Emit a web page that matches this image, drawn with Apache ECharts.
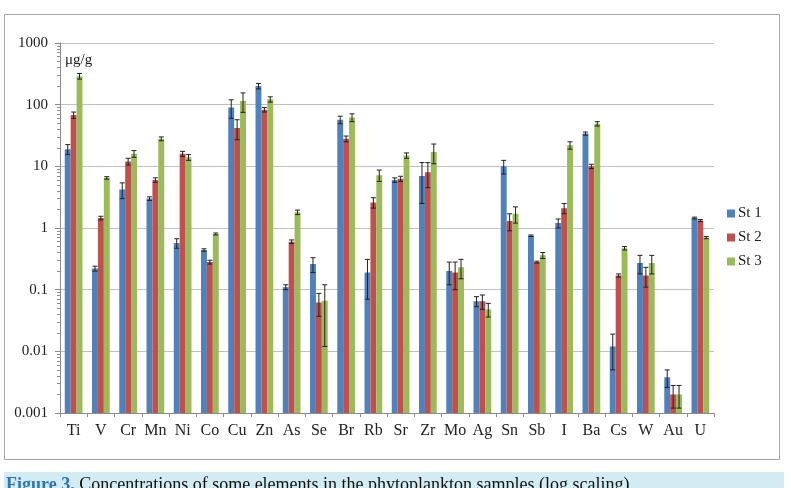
<!DOCTYPE html>
<html>
<head>
<meta charset="utf-8">
<script src="https://cdn.jsdelivr.net/npm/echarts@6/dist/echarts.min.js"></script>
<style>
  html, body { margin: 0; padding: 0; background: #fff; }
  #main { width: 791px; height: 488px; }
</style>
</head>
<body>
<div id="main"></div>
<script>
var elements = ['Ti', 'V', 'Cr', 'Mn', 'Ni', 'Co', 'Cu', 'Zn', 'As', 'Se', 'Br', 'Rb', 'Sr', 'Zr', 'Mo', 'Ag', 'Sn', 'Sb', 'I', 'Ba', 'Cs', 'W', 'Au', 'U'];
var stationNames = ['St 1', 'St 2', 'St 3'];

// mean concentrations, ug/g
var st1 = [19, 0.22, 4.2, 3.0, 0.57, 0.44, 90, 200, 0.11, 0.26, 57, 0.19, 6.0, 7.0, 0.2, 0.065, 10, 0.75, 1.2, 34, 0.012, 0.27, 0.0038, 1.45];
var st2 = [68, 1.45, 12, 6.0, 16, 0.28, 42, 83, 0.6, 0.062, 28, 2.6, 6.3, 8.0, 0.19, 0.065, 1.3, 0.28, 2.1, 10, 0.17, 0.17, 0.002, 1.32];
var st3 = [290, 6.5, 16, 28, 14, 0.8, 115, 122, 1.8, 0.066, 62, 7.2, 15, 17, 0.23, 0.048, 1.7, 0.36, 22, 49, 0.47, 0.27, 0.002, 0.7];

// standard deviations (error bars)
var err1 = [3.5, 0.02, 1.2, 0.2, 0.1, 0.02, 30, 20, 0.01, 0.07, 8, 0.12, 0.5, 4.5, 0.08, 0.012, 2.5, 0.02, 0.2, 2, 0.007, 0.09, 0.0012, 0.05];
var err2 = [8, 0.1, 1.5, 0.5, 1.5, 0.02, 15, 7, 0.04, 0.025, 3, 0.5, 0.6, 3.5, 0.09, 0.017, 0.4, 0.01, 0.4, 0.8, 0.01, 0.06, 0.0008, 0.05];
var err3 = [30, 0.3, 2, 2, 1.5, 0.03, 40, 12, 0.15, 0.054, 9, 1.5, 1.5, 6, 0.08, 0.012, 0.5, 0.04, 3, 4, 0.03, 0.09, 0.0008, 0.03];

var yMin = 0.001, yMax = 1000;

var colors = ['#4f81bd', '#c0504d', '#9bbb59'];
var means = [st1, st2, st3];
var errs = [err1, err2, err3];
var catGap = 0.35;
var font = '"Liberation Serif", "Times New Roman", serif';

var chart = echarts.init(document.getElementById('main'));

// bar + error bar drawn together; bars on log axis must start at the axis min
function barItem(k) {
  return function (params, api) {
    var idx = api.value(0);
    var v = api.value(1), lo = api.value(2), hi = api.value(3);
    var band = api.size([1, 0])[0];
    var bw = band * (1 - catGap) / 3;
    var cx = api.coord([idx, v])[0] + (k - 1) * bw;
    var yTop = api.coord([idx, v])[1];
    var yBase = api.coord([idx, yMin])[1];
    var yHi = api.coord([idx, hi])[1];
    var yLo = api.coord([idx, lo])[1];
    var cap = 2.5;
    var st = { stroke: '#222', lineWidth: 1 };
    return {
      type: 'group',
      children: [
        { type: 'rect', shape: { x: cx - bw / 2, y: yTop, width: bw, height: yBase - yTop }, style: { fill: colors[k] } },
        { type: 'line', shape: { x1: cx, y1: yHi, x2: cx, y2: yLo }, style: st },
        { type: 'line', shape: { x1: cx - cap, y1: yHi, x2: cx + cap, y2: yHi }, style: st },
        { type: 'line', shape: { x1: cx - cap, y1: yLo, x2: cx + cap, y2: yLo }, style: st }
      ]
    };
  };
}

var series = [];
for (var k = 0; k < 3; k++) {
  var d = [];
  for (var i = 0; i < elements.length; i++) {
    var lo = means[k][i] - errs[k][i];
    if (lo < 0.0011) lo = 0.0011;
    d.push([i, means[k][i], lo, means[k][i] + errs[k][i]]);
  }
  series.push({
    name: stationNames[k],
    type: 'custom',
    renderItem: barItem(k),
    data: d,
    encode: { x: 0, y: [1, 2, 3] },
    itemStyle: { color: colors[k] },
    silent: true
  });
}

chart.setOption({
  animation: false,
  textStyle: { fontFamily: font },
  grid: { left: 60, right: 77, top: 43, bottom: 75 },
  legend: {
    data: stationNames,
    orient: 'vertical',
    left: 722,
    top: 201,
    itemWidth: 8,
    itemHeight: 8,
    itemGap: 9,
    icon: 'rect',
    textStyle: { fontFamily: font, fontSize: 15, color: '#222', padding: [0, 0, 0, -2] }
  },
  xAxis: {
    type: 'category',
    data: elements,
    axisLine: { lineStyle: { color: '#8c8c8c' } },
    axisTick: { show: true, length: 4, lineStyle: { color: '#8c8c8c' } },
    axisLabel: { fontFamily: font, fontSize: 16, color: '#222', margin: 10, interval: 0 }
  },
  yAxis: {
    type: 'log',
    logBase: 10,
    min: yMin,
    max: yMax,
    axisLine: { show: true, lineStyle: { color: '#8c8c8c' } },
    axisTick: { show: true, length: 5, lineStyle: { color: '#8c8c8c' } },
    minorTick: { show: true, splitNumber: 9, length: 3, lineStyle: { color: '#8c8c8c' } },
    splitLine: { lineStyle: { color: '#c0c0c0' } },
    axisLabel: {
      fontFamily: font, fontSize: 15, color: '#222', margin: 12,
      formatter: function (v) { return String(v); }
    }
  },
  graphic: [
    { type: 'rect', shape: { x: 4.5, y: 14.5, width: 775, height: 445 }, style: { fill: 'none', stroke: '#a6a6a6', lineWidth: 1 }, z: -1 },
    { type: 'text', left: 65, top: 53, style: { text: 'μg/g', font: '15px ' + font, fill: '#222' } },
    { type: 'rect', shape: { x: 4, y: 472, width: 780, height: 20 }, style: { fill: '#d3ecf3' } },
    {
      type: 'text', left: 6, top: 476,
      style: {
        text: '{a|Figure 3.} Concentrations of some elements in the phytoplankton samples (log scaling)',
        font: '18px ' + font,
        fill: '#111',
        rich: { a: { fill: '#2f74b5', font: 'bold 18px ' + font } }
      }
    }
  ],
  series: series
});
</script>
</body>
</html>
